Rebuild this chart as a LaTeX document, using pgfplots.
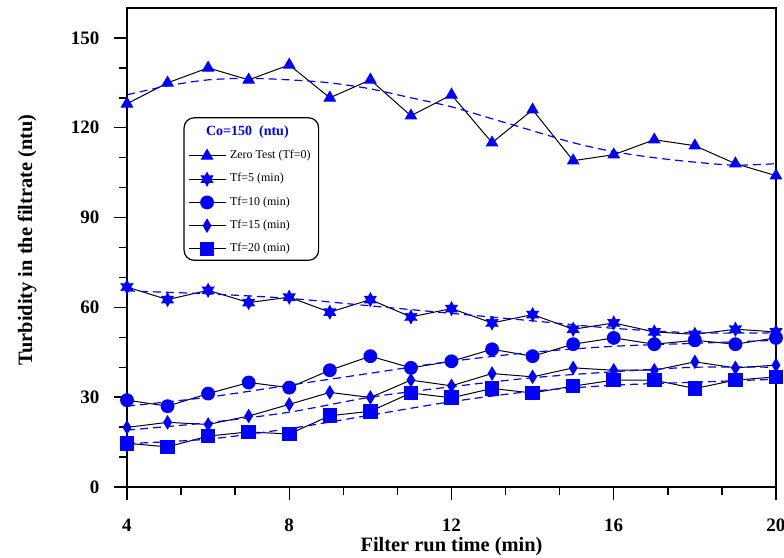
\documentclass[border=0pt]{standalone}
\usepackage{fontspec}
\setmainfont{Liberation Serif}
\usepackage{pgfplots}
\pgfplotsset{compat=1.18}
\pgfdeclareplotmark{sixstar}{%
  \pgfpathmoveto{\pgfpointpolar{90}{\pgfplotmarksize}}%
  \pgfpathlineto{\pgfpointpolar{120}{0.55\pgfplotmarksize}}%
  \pgfpathlineto{\pgfpointpolar{150}{\pgfplotmarksize}}%
  \pgfpathlineto{\pgfpointpolar{180}{0.55\pgfplotmarksize}}%
  \pgfpathlineto{\pgfpointpolar{210}{\pgfplotmarksize}}%
  \pgfpathlineto{\pgfpointpolar{240}{0.55\pgfplotmarksize}}%
  \pgfpathlineto{\pgfpointpolar{270}{\pgfplotmarksize}}%
  \pgfpathlineto{\pgfpointpolar{300}{0.55\pgfplotmarksize}}%
  \pgfpathlineto{\pgfpointpolar{330}{\pgfplotmarksize}}%
  \pgfpathlineto{\pgfpointpolar{0}{0.55\pgfplotmarksize}}%
  \pgfpathlineto{\pgfpointpolar{30}{\pgfplotmarksize}}%
  \pgfpathlineto{\pgfpointpolar{60}{0.55\pgfplotmarksize}}%
  \pgfpathclose
  \pgfusepathqfillstroke}
\begin{document}
\begin{tikzpicture}
\begin{axis}[
  name=ax,
  scale only axis,
  width=324.5pt, height=239.5pt,
  xmin=4, xmax=20, ymin=0, ymax=160,
  xtick={4,8,12,16,20}, ytick={0,30,60,90,120,150},
  minor x tick num=2, minor y tick num=2,
  xtick pos=bottom, ytick pos=left,
  tick align=outside,
  major tick length=6.3pt, minor tick length=4pt,
  axis line style={line width=0.75pt},
  every tick/.style={black, line width=0.7pt},
  /pgf/number format/assume math mode=true,
  ticklabel style={font=\bfseries\fontsize{9.5}{11}\selectfont},
  yticklabel style={xshift=-4pt},
  xticklabel style={yshift=-6pt},
  xlabel={\bfseries Filter run time (min)},
  ylabel={\bfseries Turbidity in the filtrate (ntu)},
  label style={font=\bfseries\fontsize{10.2}{12}\selectfont},
  xlabel style={at={(axis description cs:0.5,-0.125)}, anchor=center},
  ylabel style={at={(axis description cs:-0.154,0.516)}, anchor=center},
  legend style={at={(rel axis cs:0.087,0.772)}, anchor=north west,
    draw=black, line width=0.6pt, rounded corners=5pt,
    font=\fontsize{6}{7}\selectfont, row sep=1.9pt,
    inner xsep=2pt, inner ysep=0.8pt},
  legend cell align=left,
  legend image code/.code={%
    \draw[mark repeat=2,mark phase=2,line width=0.5pt]
      plot coordinates {(0pt,0pt) (9.25pt,0pt) (18.5pt,0pt)};},
]
% legend title
\addlegendimage{empty legend}
\addlegendentry{\hspace{-12pt}\rule[-5.5pt]{0pt}{11.5pt}\textcolor{blue}{\bfseries\fontsize{7}{8}\selectfont Co=150\ \ (ntu)}}

\addplot[black, line width=0.5pt, mark=triangle*, mark size=3.2pt,
  mark options={fill=blue, draw=blue, solid}] coordinates {
(4,128) (5,135) (6,140) (7,136) (8,141) (9,130) (10,136) (11,124) (12,131)
(13,115) (14,126) (15,109) (16,111) (17,116) (18,114) (19,108) (20,104)};
\addlegendentry{Zero Test (Tf=0)}

\addplot[black, line width=0.5pt, mark=sixstar, mark size=3.3pt,
  mark options={fill=blue, draw=blue, solid}] coordinates {
(4,66.8) (5,62.6) (6,65.7) (7,61.6) (8,63.4) (9,58.4) (10,62.6) (11,56.8) (12,59.6)
(13,54.8) (14,57.6) (15,52.7) (16,54.8) (17,51.8) (18,51) (19,52.7) (20,51.8)};
\addlegendentry{Tf=5 (min)}

\addplot[black, line width=0.5pt, mark=*, mark size=3.2pt,
  mark options={fill=blue, draw=blue, solid}] coordinates {
(4,29) (5,27) (6,31.2) (7,34.9) (8,33.2) (9,39) (10,43.7) (11,39.8) (12,42)
(13,46) (14,43.7) (15,47.7) (16,49.8) (17,47.7) (18,49) (19,47.7) (20,49.8)};
\addlegendentry{Tf=10 (min)}

\addplot[black, line width=0.5pt, mark=diamond*, mark size=3.2pt,
  mark options={fill=blue, draw=blue, solid, xscale=0.8}] coordinates {
(4,19.9) (5,21.6) (6,20.9) (7,23.7) (8,27.6) (9,31.6) (10,29.9) (11,35.7) (12,33.8)
(13,37.9) (14,36.8) (15,39.8) (16,39) (17,39) (18,41.8) (19,39.8) (20,40.7)};
\addlegendentry{Tf=15 (min)}

\addplot[black, line width=0.5pt, mark=square*, mark size=3.4pt,
  mark options={fill=blue, draw=blue, solid}] coordinates {
(4,14.6) (5,13.4) (6,17) (7,18.4) (8,17.7) (9,23.8) (10,25.3) (11,31.4) (12,29.8)
(13,32.9) (14,31.4) (15,33.7) (16,35.7) (17,35.7) (18,32.9) (19,35.7) (20,36.8)};
\addlegendentry{Tf=20 (min)}

% fitted trend lines
\pgfplotsset{fitline/.style={blue, dash pattern=on 4pt off 2.5pt, line width=0.6pt, smooth, forget plot}}
\addplot[fitline] coordinates {
(4,131) (5,134) (6,136) (7,136.5) (8,136) (9,135) (10,133) (11,130) (12,127)
(13,123) (14,119) (15,115) (16,112) (17,110) (18,108.5) (19,107.5) (20,108)};
\addplot[fitline] coordinates {
(4,65.5) (6,64.5) (8,63) (10,60.5) (12,58) (14,55.5) (16,53) (18,51.5) (20,51.5)};
\addplot[fitline] coordinates {
(4,27) (6,30) (8,34) (10,38) (12,42) (14,45) (16,47) (18,48) (20,49)};
\addplot[fitline] coordinates {
(4,19) (6,21.5) (8,25) (10,30) (12,33.5) (14,36.5) (16,38.5) (18,40) (20,40)};
\addplot[fitline] coordinates {
(4,14.5) (6,16) (8,19.5) (10,24) (12,28.5) (14,32) (16,34) (18,35) (20,36)};
\end{axis}
\pgfresetboundingbox
\path[use as bounding box] ([xshift=-63.5pt,yshift=-35.5pt]ax.south west) rectangle ([xshift=4pt,yshift=4pt]ax.north east);
\end{tikzpicture}
\end{document}
